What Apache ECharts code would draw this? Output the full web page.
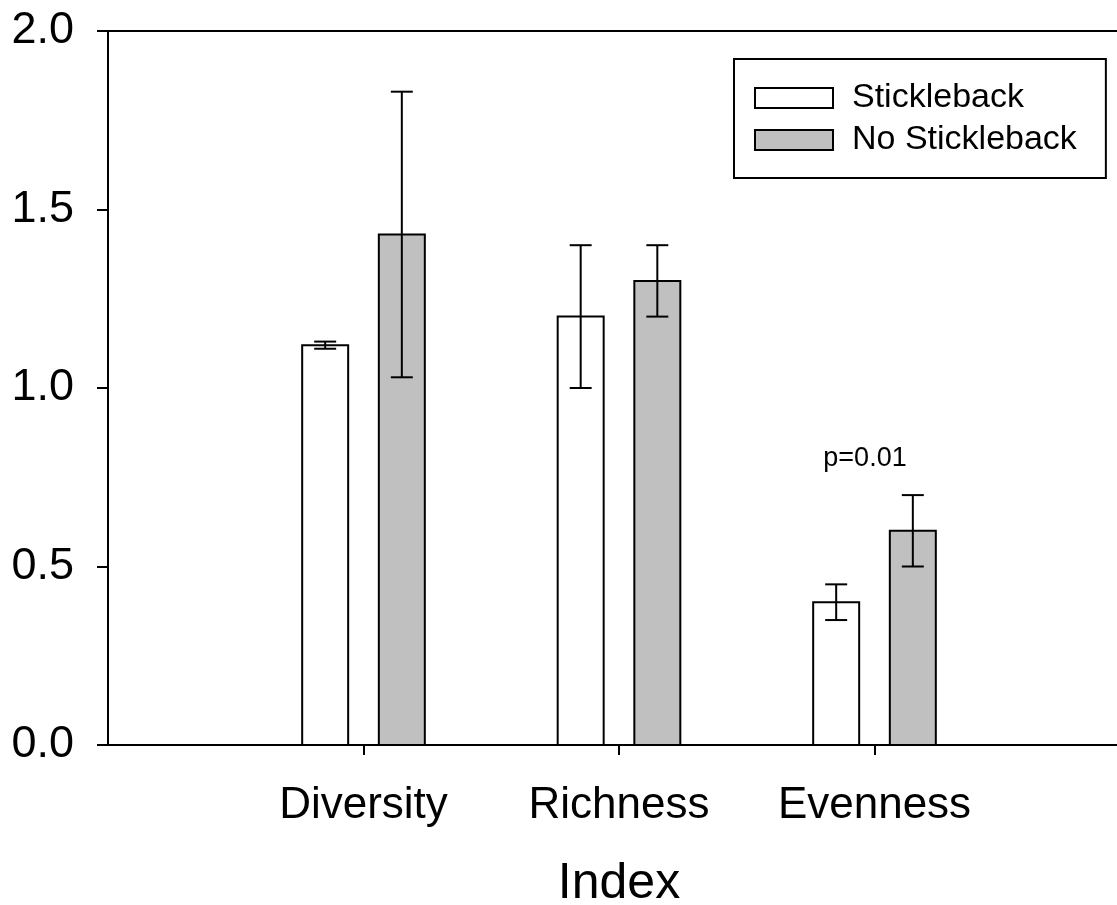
<!DOCTYPE html>
<html>
<head>
	<meta charset="utf-8"/>
	<title>Index</title>
	<style>
		* { margin: 0; padding: 0; }
		body { background: #fff; }
	</style>
</head>
<body>
	<div id="myChart" style="width: 1117px; height: 905px;"></div>

	<script src="https://cdn.jsdelivr.net/npm/echarts@6/dist/echarts.min.js"></script>
	<script>
		// data
		var categories = ['Diversity', 'Richness', 'Evenness'];
		var seriesNames = ['Stickleback', 'No Stickleback'];
		var stickleMean = [1.12, 1.20, 0.40];
		var stickleErr = [0.01, 0.20, 0.05];
		var noStickleMean = [1.43, 1.30, 0.60];
		var noStickleErr = [0.40, 0.10, 0.10];
		var yTicks = [0, 0.5, 1.0, 1.5, 2.0];
		var catPositions = [1, 2, 3];

		var FONT = 'Liberation Sans, Arial, sans-serif';
		var BAR_W = 0.18;      // bar width in x units
		var OFFSET = 0.15;     // distance of each bar from the category tick
		var CAP = 0.086;       // error cap width

		function rows(means, errs) {
			return means.map(function (m, i) { return [catPositions[i], m, errs[i]]; });
		}

		function barRenderer(shift, fill) {
			return function (params, api) {
				var x = api.value(0) + shift;
				var v = api.value(1);
				var e = api.value(2);
				var p0 = api.coord([x - BAR_W / 2, 0]);
				var p1 = api.coord([x + BAR_W / 2, v]);
				var top = api.coord([x, v + e]);
				var bot = api.coord([x, v - e]);
				var cl = api.coord([x - CAP / 2, 0])[0];
				var cr = api.coord([x + CAP / 2, 0])[0];
				var line = { stroke: '#000', lineWidth: 2 };
				return {
					type: 'group',
					children: [
						{ type: 'rect', shape: { x: p0[0], y: p1[1], width: p1[0] - p0[0], height: p0[1] - p1[1] },
						  style: { fill: fill, stroke: '#000', lineWidth: 2 } },
						{ type: 'line', shape: { x1: top[0], y1: top[1], x2: bot[0], y2: bot[1] }, style: line },
						{ type: 'line', shape: { x1: cl, y1: top[1], x2: cr, y2: top[1] }, style: line },
						{ type: 'line', shape: { x1: cl, y1: bot[1], x2: cr, y2: bot[1] }, style: line }
					]
				};
			};
		}

		var myChart = echarts.init(document.getElementById('myChart'));

		var option = {
			animation: false,
			textStyle: { fontFamily: FONT, color: '#000' },
			grid: { left: 108, top: 31, width: 1022, height: 714, outerBoundsMode: 'none', containLabel: false },
			legend: {
				left: 734,
				top: 59,
				orient: 'vertical',
				selectedMode: false,
				borderColor: '#000',
				borderWidth: 2,
				borderRadius: 0,
				padding: [22, 29, 21, 20],
				itemWidth: 78,
				itemHeight: 20,
				itemGap: 8,
				textStyle: { fontSize: 34, color: '#000', fontFamily: FONT, padding: [0, 0, 0, 14] },
				data: [
					{ name: seriesNames[0], icon: 'rect', itemStyle: { color: '#fff', borderColor: '#000', borderWidth: 2 } },
					{ name: seriesNames[1], icon: 'rect', itemStyle: { color: '#c0c0c0', borderColor: '#000', borderWidth: 2 } }
				]
			},
			xAxis: [
				{
					type: 'value',
					min: 0,
					max: 4,
					position: 'bottom',
					splitLine: { show: false },
					axisLine: { onZero: false, lineStyle: { color: '#000', width: 2 } },
					axisTick: { show: true, customValues: catPositions, length: 10, lineStyle: { color: '#000', width: 2 } },
					axisLabel: {
						customValues: catPositions,
						margin: 39,
						fontSize: 44,
						color: '#000',
						fontFamily: FONT,
						formatter: function (v) { return categories[catPositions.indexOf(v)] || ''; }
					},
					name: 'Index',
					nameLocation: 'middle',
					nameGap: 114,
					nameTextStyle: { fontSize: 50, color: '#000', fontFamily: FONT }
				},
				{
					type: 'value',
					min: 0,
					max: 4,
					position: 'top',
					splitLine: { show: false },
					axisLine: { show: true, onZero: false, lineStyle: { color: '#000', width: 2 } },
					axisTick: { show: false },
					axisLabel: { show: false }
				}
			],
			yAxis: {
				type: 'value',
				min: 0,
				max: 2,
				interval: 0.5,
				splitLine: { show: false },
				axisLine: { show: true, lineStyle: { color: '#000', width: 2 } },
				axisTick: { show: true, length: 11, lineStyle: { color: '#000', width: 2 } },
				axisLabel: {
					margin: 34,
					fontSize: 45,
					color: '#000',
					fontFamily: FONT,
					formatter: function (v) { return yTicks.indexOf(v) >= 0 ? v.toFixed(1) : ''; }
				}
			},
			graphic: [
				{ type: 'text', x: 865, y: 459,
				  style: { text: 'p=0.01', fontSize: 27, fontFamily: FONT, fill: '#000', align: 'center', verticalAlign: 'middle' } }
			],
			series: [
				{
					name: seriesNames[0],
					type: 'custom',
					itemStyle: { color: '#fff', borderColor: '#000' },
					renderItem: barRenderer(-OFFSET, '#fff'),
					data: rows(stickleMean, stickleErr)
				},
				{
					name: seriesNames[1],
					type: 'custom',
					itemStyle: { color: '#c0c0c0', borderColor: '#000' },
					renderItem: barRenderer(OFFSET, '#c0c0c0'),
					data: rows(noStickleMean, noStickleErr)
				}
			]
		};

		myChart.setOption(option);
	</script>
</body>
</html>
